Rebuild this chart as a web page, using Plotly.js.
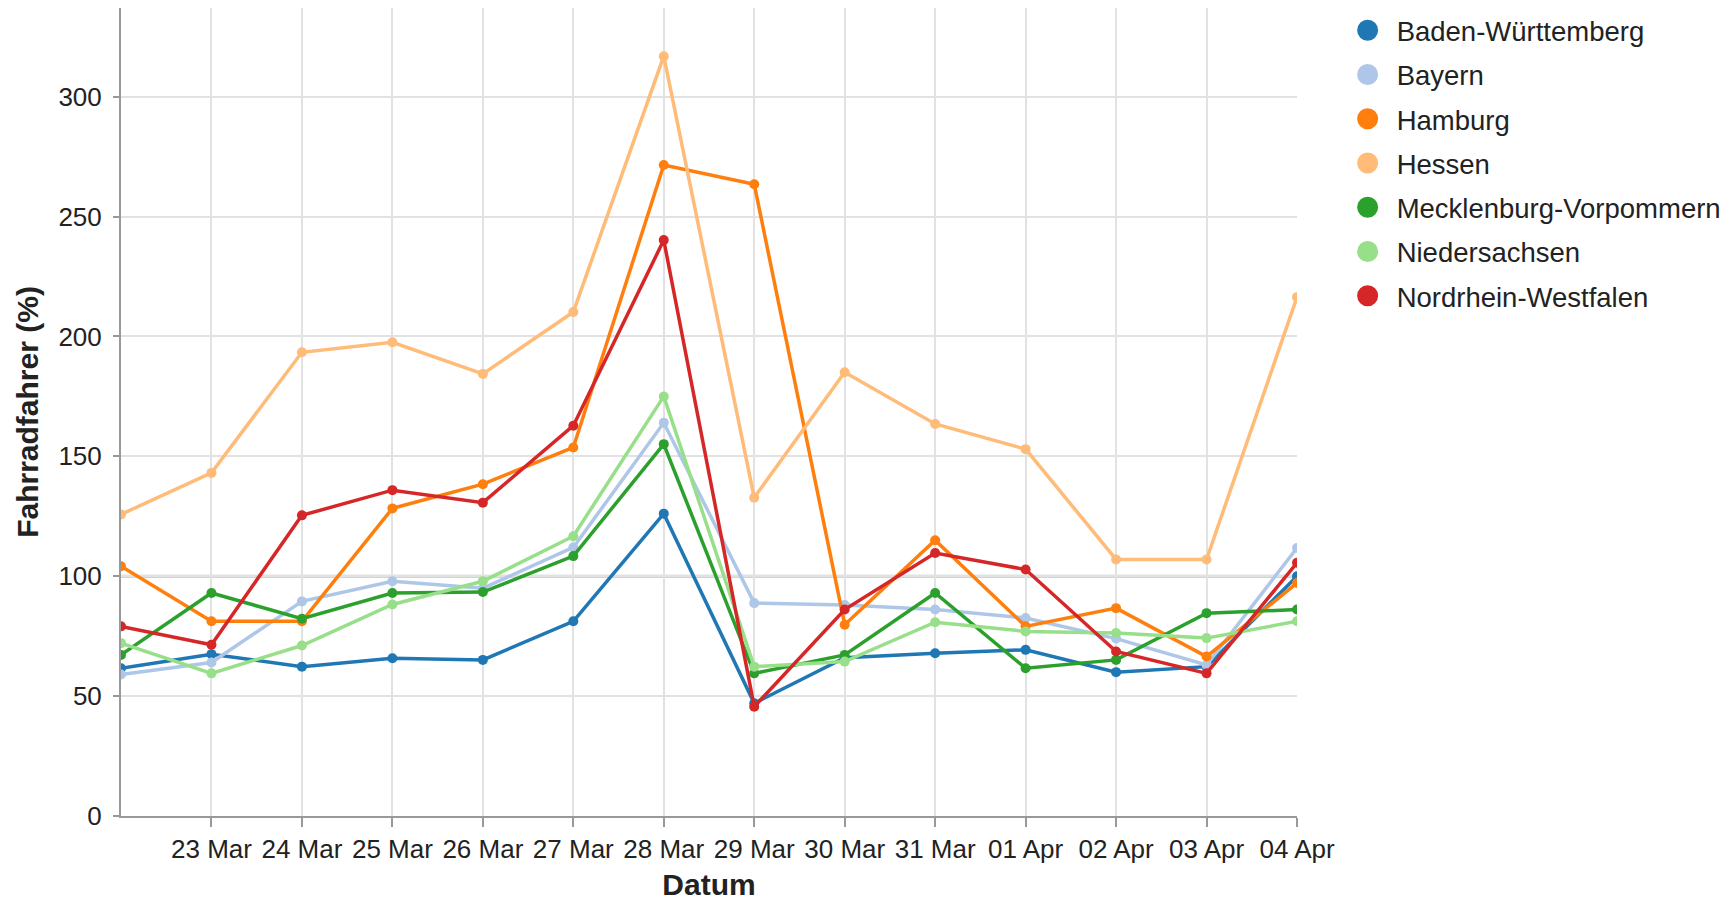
<!DOCTYPE html>
<html>
<head>
<meta charset="utf-8">
<script src="https://cdn.plot.ly/plotly-3.0.1.min.js"></script>
<style>
html,body{margin:0;padding:0;background:#ffffff;}
#chart{width:1729px;height:901px;}
</style>
</head>
<body>
<div id="chart"></div>
<script>
// ---- data ----
const dates = ['2020-03-22','2020-03-23','2020-03-24','2020-03-25','2020-03-26','2020-03-27','2020-03-28',
               '2020-03-29','2020-03-30','2020-03-31','2020-04-01','2020-04-02','2020-04-03','2020-04-04'];
const tickDates = ['2020-03-23','2020-03-24','2020-03-25','2020-03-26','2020-03-27','2020-03-28','2020-03-29',
                   '2020-03-30','2020-03-31','2020-04-01','2020-04-02','2020-04-03','2020-04-04'];
const states = ['Baden-Württemberg','Bayern','Hamburg','Hessen','Mecklenburg-Vorpommern','Niedersachsen','Nordrhein-Westfalen'];
const colors = ['#1f77b4','#aec7e8','#ff7f0e','#ffbb78','#2ca02c','#98df8a','#d62728'];

const badenWuerttemberg = [61.6, 67.5, 62.3, 65.8, 65.1, 81.2, 126.1, 47.0, 66.0, 67.9, 69.3, 60.0, 62.3, 100.0];
const bayern            = [59.0, 64.0, 89.5, 97.9, 95.0, 112.0, 164.0, 88.8, 88.0, 86.1, 82.6, 74.0, 63.0, 111.8];
const hamburg           = [104.2, 81.2, 81.2, 128.3, 138.4, 153.7, 271.5, 263.5, 79.8, 115.0, 79.1, 86.7, 66.5, 97.2];
const hessen            = [125.8, 143.1, 193.4, 197.6, 184.4, 210.2, 316.9, 132.8, 185.1, 163.5, 153.0, 107.0, 107.0, 216.4];
const mecklenburgVorp   = [67.2, 93.0, 82.3, 93.0, 93.4, 108.4, 155.1, 59.5, 67.2, 93.0, 61.6, 65.1, 84.6, 86.1];
const niedersachsen     = [72.1, 59.5, 71.1, 88.2, 97.9, 116.7, 175.0, 62.3, 64.4, 80.8, 77.0, 76.3, 74.2, 81.2];
const nordrheinWestf    = [79.1, 71.4, 125.4, 135.9, 130.7, 162.8, 240.2, 45.6, 86.1, 109.7, 102.8, 68.6, 59.5, 105.6];
const seriesValues = [badenWuerttemberg, bayern, hamburg, hessen, mecklenburgVorp, niedersachsen, nordrheinWestf];

const yTicks = [0, 50, 100, 150, 200, 250, 300];
const referenceLevel = 100;
const yMax = 337;

// ---- traces ----
const traces = [];
states.forEach((name, i) => {
  traces.push({
    type: 'scatter', mode: 'lines+markers',
    x: dates, y: seriesValues[i], name: name,
    legendgroup: name, showlegend: false,
    line: {color: colors[i], width: 3.5},
    marker: {color: colors[i], size: 10}
  });
});
// legend-only entries (big circles)
states.forEach((name, i) => {
  traces.push({
    type: 'scatter', mode: 'markers',
    x: [null], y: [null], name: name,
    legendgroup: name, showlegend: true,
    marker: {color: colors[i], size: 16, line: {color: colors[i], width: 5}},
    hoverinfo: 'skip'
  });
});

const FONT = '"Liberation Sans", Arial, sans-serif';

const layout = {
  width: 1729, height: 901,
  paper_bgcolor: '#ffffff', plot_bgcolor: '#ffffff',
  margin: {l: 121, r: 432, t: 8, b: 85, pad: 0, autoexpand: false},
  font: {family: FONT, color: '#222', size: 25},
  showlegend: true,
  legend: {
    x: 1.0354, xanchor: 'left', y: 1.0026, yanchor: 'top',
    font: {family: FONT, size: 27.5, color: '#222'},
    itemwidth: 48,
    traceorder: 'grouped', tracegroupgap: 5.5,
    bgcolor: 'rgba(0,0,0,0)', itemclick: false
  },
  xaxis: {
    type: 'date',
    range: [dates[0], dates[dates.length - 1]],
    tickvals: tickDates, tickformat: '%d %b',
    tickfont: {family: FONT, size: 26, color: '#222'},
    showgrid: true, gridcolor: '#e2e2e2', gridwidth: 2,
    showline: true, linecolor: '#999', linewidth: 2,
    ticks: 'outside', ticklen: 9, tickwidth: 2, tickcolor: '#999',
    zeroline: false, automargin: false,
    title: {text: '<b>Datum</b>', font: {family: FONT, size: 30, color: '#222'}, standoff: 12}
  },
  yaxis: {
    range: [0, yMax],
    tickvals: yTicks,
    tickfont: {family: FONT, size: 26, color: '#222'},
    ticklabelstandoff: 6,
    showgrid: true, gridcolor: '#e2e2e2', gridwidth: 2,
    showline: true, linecolor: '#999', linewidth: 2,
    ticks: 'outside', ticklen: 6, tickwidth: 2, tickcolor: '#999',
    zeroline: false, automargin: false,
    title: {text: '<b>Fahrradfahrer (%)</b>', font: {family: FONT, size: 30, color: '#222'}, standoff: 11}
  },
  shapes: [{
    type: 'line', xref: 'paper', x0: 0, x1: 1, yref: 'y', y0: referenceLevel, y1: referenceLevel,
    line: {color: '#c4c4c4', width: 3}, layer: 'below'
  }]
};

Plotly.newPlot('chart', traces, layout, {staticPlot: true, displayModeBar: false});
</script>
</body>
</html>
